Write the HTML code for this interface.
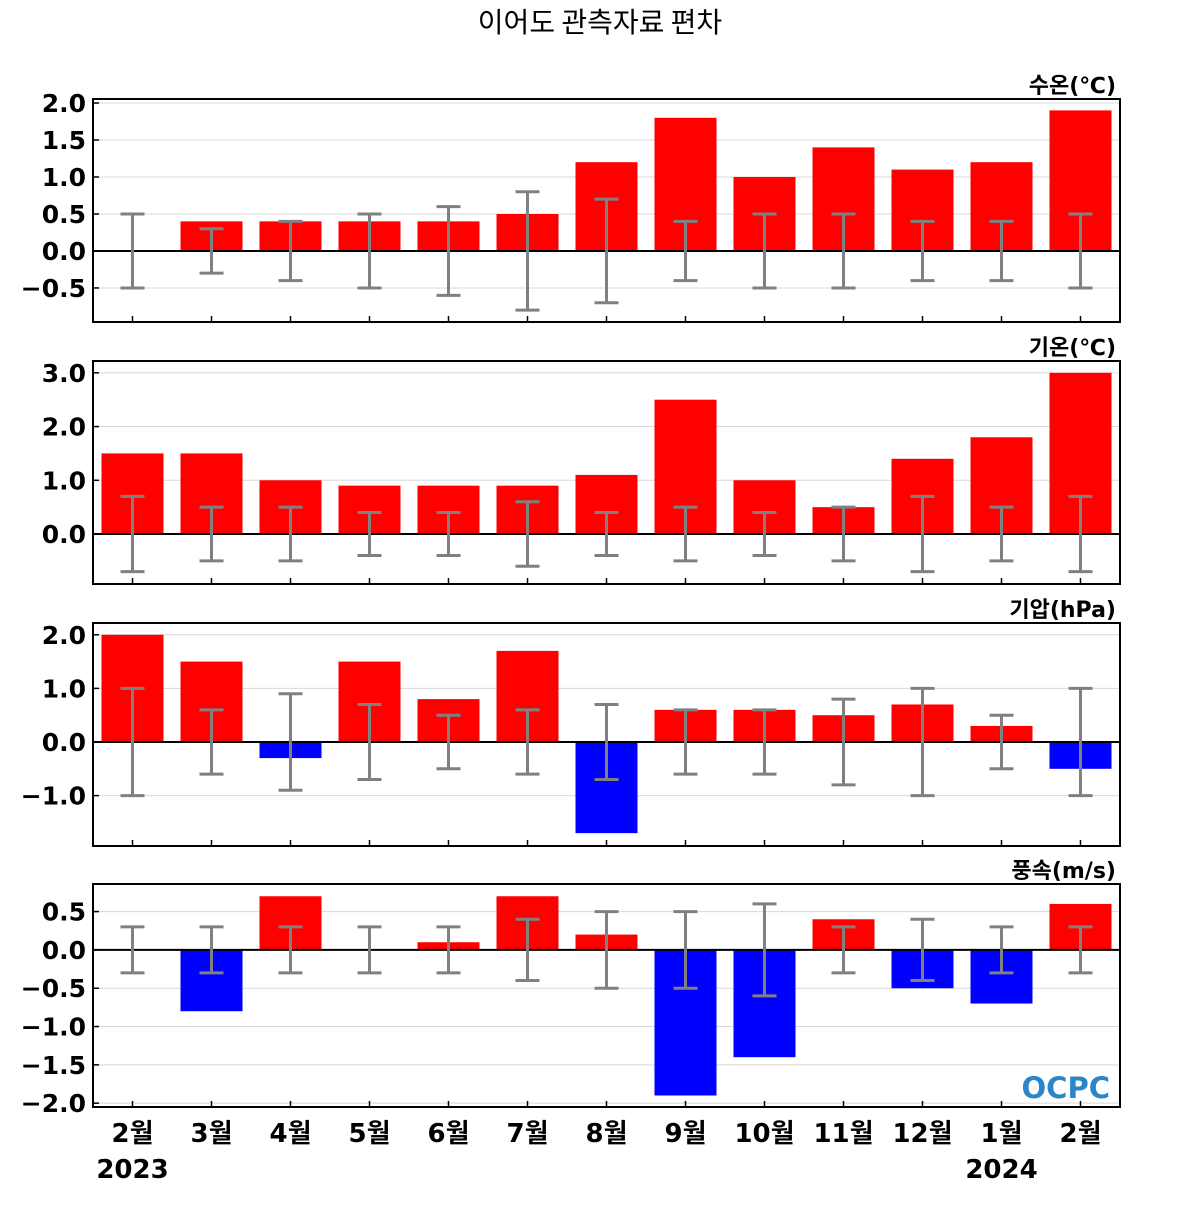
<!DOCTYPE html>
<html><head><meta charset="utf-8">
<style>
html,body{margin:0;padding:0;background:#fff;}
svg text{font-family:"DejaVu Sans","Noto Sans CJK KR",sans-serif;}
</style></head>
<body>
<svg id="chart" width="1200" height="1200" xmlns="http://www.w3.org/2000/svg">
<text x="600" y="32" text-anchor="middle" font-size="28" font-weight="normal" style="font-family:'Noto Sans CJK KR',sans-serif">이어도 관측자료 편차</text>
</svg>
<script>
const categories = ["2월","3월","4월","5월","6월","7월","8월","9월","10월","11월","12월","1월","2월"];
const sstValues = [0,0.4,0.4,0.4,0.4,0.5,1.2,1.8,1.0,1.4,1.1,1.2,1.9];
const sstErr = [0.5,0.3,0.4,0.5,0.6,0.8,0.7,0.4,0.5,0.5,0.4,0.4,0.5];
const airValues = [1.5,1.5,1.0,0.9,0.9,0.9,1.1,2.5,1.0,0.5,1.4,1.8,3.0];
const airErr = [0.7,0.5,0.5,0.4,0.4,0.6,0.4,0.5,0.4,0.5,0.7,0.5,0.7];
const presValues = [2.0,1.5,-0.3,1.5,0.8,1.7,-1.7,0.6,0.6,0.5,0.7,0.3,-0.5];
const presErr = [1.0,0.6,0.9,0.7,0.5,0.6,0.7,0.6,0.6,0.8,1.0,0.5,1.0];
const windValues = [0,-0.8,0.7,0,0.1,0.7,0.2,-1.9,-1.4,0.4,-0.5,-0.7,0.6];
const windErr = [0.3,0.3,0.3,0.3,0.3,0.4,0.5,0.5,0.6,0.3,0.4,0.3,0.3];
const sstTicks = [2.0,1.5,1.0,0.5,0.0,-0.5];
const airTicks = [3.0,2.0,1.0,0.0];
const presTicks = [2.0,1.0,0.0,-1.0];
const windTicks = [0.5,0.0,-0.5,-1.0,-1.5,-2.0];

const NS="http://www.w3.org/2000/svg";
const svg=document.getElementById('chart');
function mk(tag,attrs,parent){const e=document.createElementNS(NS,tag);for(const k in attrs)e.setAttribute(k,attrs[k]);(parent||svg).appendChild(e);return e;}
const X0=93,X1=1120;
const step=(X1-X0)/categories.length;
function xC(i){return X0+step*(i+0.5);}
const panels=[
 {name:'water-temp',title:'수온(℃)',vals:sstValues,err:sstErr,ticks:sstTicks,top:99,bot:322,vmax:2.054,vmin:-0.96,dec:1},
 {name:'air-temp',title:'기온(℃)',vals:airValues,err:airErr,ticks:airTicks,top:361,bot:584,vmax:3.22,vmin:-0.93,dec:1},
 {name:'pressure',title:'기압(hPa)',vals:presValues,err:presErr,ticks:presTicks,top:623,bot:846,vmax:2.22,vmin:-1.94,dec:1},
 {name:'wind-speed',title:'풍속(m/s)',vals:windValues,err:windErr,ticks:windTicks,top:884,bot:1107,vmax:0.86,vmin:-2.05,dec:1}
];
panels.forEach(p=>{
 const g=mk('g',{});
 
 
 const y=v=>p.top+(p.vmax-v)/(p.vmax-p.vmin)*(p.bot-p.top);
 p.ticks.forEach(t=>{
  if(t!==0){const gl=mk('line',{x1:X0,x2:X1,y1:y(t),y2:y(t),stroke:'#d8d8d8','stroke-width':1},g);
  }
  const tk=mk('line',{x1:X0,x2:X0+6,y1:y(t),y2:y(t),stroke:'#000','stroke-width':1.5},g);
  
  const lb=mk('text',{x:86,y:y(t)+9,'text-anchor':'end','font-size':25,'font-weight':'bold'},g);
  lb.textContent=(t<0?'\u2212':'')+Math.abs(t).toFixed(p.dec);
  
 });
 p.vals.forEach((v,i)=>{
  const bw=62;
  const r=mk('rect',{x:xC(i)-bw/2,y:Math.min(y(v),y(0)),width:bw,height:Math.abs(y(v)-y(0)),fill:v>=0?'#ff0000':'#0000ff'},g);
  
 });
 const zl=mk('line',{x1:X0,x2:X1,y1:y(0),y2:y(0),stroke:'#000','stroke-width':2},g);
 
 p.err.forEach((e,i)=>{
  const cx=xC(i);
  const eg=mk('g',{stroke:'#808080','stroke-width':3},g);
  
  mk('line',{x1:cx,x2:cx,y1:y(e),y2:y(-e)},eg);
  mk('line',{x1:cx-12,x2:cx+12,y1:y(e),y2:y(e)},eg);
  mk('line',{x1:cx-12,x2:cx+12,y1:y(-e),y2:y(-e)},eg);
 });
 categories.forEach((c,i)=>{
  const t=mk('line',{x1:xC(i),x2:xC(i),y1:p.bot-6,y2:p.bot,stroke:'#000','stroke-width':1.5},g);
  
 });
 const fr=mk('rect',{x:X0,y:p.top,width:X1-X0,height:p.bot-p.top,fill:'none',stroke:'#000','stroke-width':2},g);
 
 const tt=mk('text',{x:1116,y:p.top-6,'text-anchor':'end','font-size':22,'font-weight':'bold'},g);
 tt.textContent=p.title;
 
});
categories.forEach((c,i)=>{
 const t=mk('text',{x:xC(i),y:1142,'text-anchor':'middle','font-size':26,'font-weight':'bold'});
 t.textContent=c;
 
});
const y1=mk('text',{x:xC(0),y:1178,'text-anchor':'middle','font-size':26,'font-weight':'bold'});
y1.textContent='2023';

const y2=mk('text',{x:xC(11),y:1178,'text-anchor':'middle','font-size':26,'font-weight':'bold'});
y2.textContent='2024';

const lg=mk('text',{x:1110,y:1098,'text-anchor':'end','font-size':29,'font-weight':'bold',fill:'#2a86c8'});
lg.textContent='OCPC';

</script>
</body></html>
